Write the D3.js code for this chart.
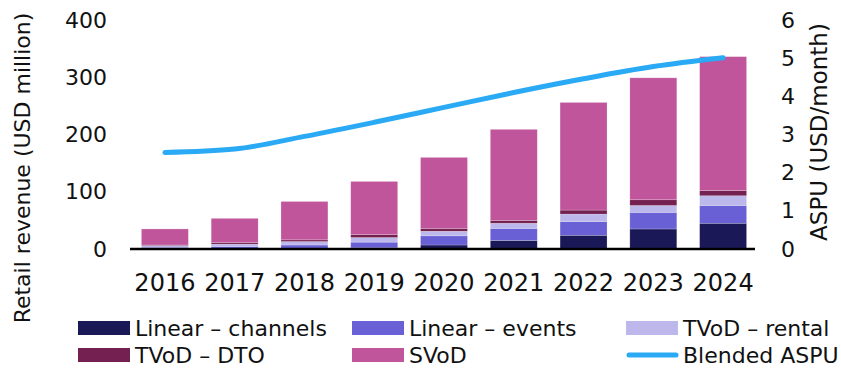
<!DOCTYPE html>
<meta charset="utf-8">
<script src="https://d3js.org/d3.v7.min.js"></script>
<style>
body { margin: 0; background: #fff; }
text { font-family: "DejaVu Sans", sans-serif; fill: #111; }
</style>
<div id="chart"></div>
<script>

// values
const years = ["2016", "2017", "2018", "2019", "2020", "2021", "2022", "2023", "2024"];
const linearChannels = [0, 0.5, 1, 2, 7, 15, 24, 35, 45];
const linearEvents = [1, 4, 6, 10, 16, 21, 24, 29, 31];
const tvodRental = [5, 4, 6, 8, 8, 9, 13, 12, 17];
const tvodDTO = [1, 3, 3, 5, 5, 5, 7, 10, 9];
const svod = [28, 42, 67, 93, 124, 159, 188, 213, 234];
const aspu = [2.53, 2.62, 2.95, 3.32, 3.71, 4.1, 4.46, 4.78, 5.01];

const leftTicks = [0, 100, 200, 300, 400];
const rightTicks = [0, 1, 2, 3, 4, 5, 6];

const seriesNames = ["Linear – channels", "Linear – events", "TVoD – rental", "TVoD – DTO", "SVoD"];
const seriesColors = ["#1b1858", "#6860d4", "#bdb8ec", "#742050", "#c0559c"];
const lineName = "Blended ASPU";
const lineColor = "#2aa9f5";

const width = 841, height = 369;

const svg = d3.select("#chart")
  .append("svg")
    .attr("width", width)
    .attr("height", height);

const x = d3.scaleBand()
  .domain(years)
  .range([130, 758])
  .paddingInner(0.327)
  .paddingOuter(0.1635);

const y = d3.scaleLinear().domain([0, 400]).range([249, 20]);
const y2 = d3.scaleLinear().domain([0, 6]).range([249, 20]);

// stack table built from the arrays
const table = years.map((yr, i) => ({
  year: yr,
  s0: linearChannels[i],
  s1: linearEvents[i],
  s2: tvodRental[i],
  s3: tvodDTO[i],
  s4: svod[i]
}));
const keys = ["s0", "s1", "s2", "s3", "s4"];
const stacked = d3.stack().keys(keys)(table);

svg.append("g")
  .selectAll("g")
  .data(stacked)
  .join("g")
    .attr("fill", (d, i) => seriesColors[i])
  .selectAll("rect")
  .data(d => d)
  .join("rect")
    .attr("x", d => x(d.data.year))
    .attr("width", x.bandwidth())
    .attr("y", d => y(d[1]))
    .attr("height", d => y(d[0]) - y(d[1]))
    .attr("stroke", "#fff")
    .attr("stroke-opacity", 0.35)
    .attr("stroke-width", 0.6);

// baseline
svg.append("line")
  .attr("x1", x.range()[0])
  .attr("x2", x.range()[1] - 3)
  .attr("y1", y(0))
  .attr("y2", y(0))
  .attr("stroke", "#000")
  .attr("stroke-width", 2.5);

// ASPU line
svg.append("path")
  .datum(aspu)
  .attr("fill", "none")
  .attr("stroke", lineColor)
  .attr("stroke-width", 5)
  .attr("stroke-linecap", "round")
  .attr("d", d3.line()
    .curve(d3.curveMonotoneX)
    .x((d, i) => x(years[i]) + x.bandwidth() / 2)
    .y(d => y2(d)));

// axes
const leftAxis = svg.append("g")
  .attr("transform", "translate(110,0)")
  .call(d3.axisLeft(y).tickValues(leftTicks).tickSize(0).tickPadding(3));
leftAxis.select(".domain").remove();
leftAxis.selectAll("text").style("font-family", "DejaVu Sans").style("font-size", "22px").attr("fill", "#111");

const rightAxis = svg.append("g")
  .attr("transform", "translate(776,0)")
  .call(d3.axisRight(y2).tickValues(rightTicks).tickFormat(d3.format("d")).tickSize(0).tickPadding(5));
rightAxis.select(".domain").remove();
rightAxis.selectAll("text").style("font-family", "DejaVu Sans").style("font-size", "22px").attr("fill", "#111");

const bottomAxis = svg.append("g")
  .attr("transform", `translate(0,${y(0)})`)
  .call(d3.axisBottom(x).tickSize(0).tickPadding(25));
bottomAxis.select(".domain").remove();
bottomAxis.selectAll("text").style("font-family", "DejaVu Sans").style("font-size", "24px").attr("fill", "#111");

// axis titles
svg.append("text")
  .attr("transform", "translate(30,168) rotate(-90)")
  .attr("text-anchor", "middle")
  .style("font-size", "22px")
  .text("Retail revenue (USD million)");

svg.append("text")
  .attr("transform", "translate(827,132) rotate(-90)")
  .attr("text-anchor", "middle")
  .style("font-size", "23px")
  .text("ASPU (USD/month)");

// legend
const legendItems = seriesNames.map((n, i) => ({ name: n, color: seriesColors[i], type: "rect" }))
  .concat([{ name: lineName, color: lineColor, type: "line" }]);
const colX = [78, 352, 626];
const rowY = [328, 355];

const leg = svg.append("g")
  .selectAll("g")
  .data(legendItems)
  .join("g")
    .attr("transform", (d, i) => `translate(${colX[i % 3]},${rowY[Math.floor(i / 3)]})`);

leg.filter(d => d.type === "rect")
  .append("rect")
    .attr("x", 0)
    .attr("y", -7)
    .attr("width", 52)
    .attr("height", 14)
    .attr("fill", d => d.color);

leg.filter(d => d.type === "line")
  .append("line")
    .attr("x1", 3)
    .attr("x2", 50)
    .attr("y1", 0)
    .attr("y2", 0)
    .attr("stroke", d => d.color)
    .attr("stroke-width", 5)
    .attr("stroke-linecap", "round");

leg.append("text")
  .attr("x", 57)
  .attr("y", 0)
  .attr("dominant-baseline", "central")
  .style("font-size", "22px")
  .text(d => d.name);

</script>
